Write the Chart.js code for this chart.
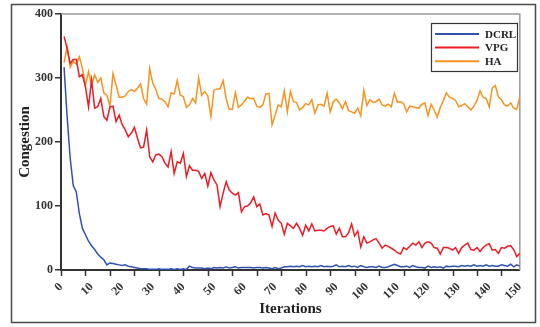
<!DOCTYPE html>
<html>
<head>
<meta charset="utf-8">
<script src="https://cdn.jsdelivr.net/npm/chart.js@4.4.1/dist/chart.umd.min.js"></script>
<style>
  html, body { margin: 0; padding: 0; background: #fff; }
  #wrap { width: 540px; height: 327px; position: relative; }
</style>
</head>
<body>
<div id="wrap"><canvas id="myChart" width="540" height="327"></canvas></div>
<script>
// iterations 1..150
const iterations = Array.from({ length: 150 }, (_, i) => i + 1);
const xTicks = [0, 150, 10];
const yTicks = [0, 400, 100];

const seriesNames = ["DCRL", "VPG", "HA"];
const seriesColors = ["#2f52b0", "#ec1c24", "#f7931e"];

const dcrl = [
  317, 240, 175, 132, 122, 88, 65, 55, 45, 38,
  32, 25, 20, 16, 8, 11, 10, 9, 8, 7,
  8, 6, 5, 4, 3, 2, 2, 2, 1, 1,
  1, 2, 1, 1, 1, 2, 1, 2, 1, 2,
  1, 6, 4, 3, 3, 3, 2, 3, 2, 4,
  3, 4, 3, 5, 3, 4, 5, 3, 4, 4,
  4, 4, 3, 4, 4, 3, 4, 3, 2, 4,
  2, 3, 5, 5, 6, 5, 6, 5, 7, 5,
  6, 5, 6, 5, 7, 5, 6, 5, 6, 8,
  5, 6, 5, 7, 5, 6, 4, 7, 5, 4,
  5, 5, 4, 6, 4, 4, 5, 7, 9, 7,
  5, 5, 6, 4, 7, 5, 4, 4, 3, 6,
  4, 5, 4, 5, 3, 6, 5, 6, 6, 5,
  7, 6, 7, 6, 8, 6, 7, 6, 8, 6,
  7, 6, 6, 8, 7, 6, 9, 5, 8, 6,
];

const vpg = [
  365, 346, 323, 329, 329, 302, 305, 286, 255, 297,
  253, 255, 268, 240, 234, 255, 256, 232, 242, 227,
  219, 208, 214, 223, 206, 191, 192, 219, 177, 169,
  180, 181, 177, 167, 161, 185, 151, 169, 167, 182,
  146, 163, 156, 156, 154, 143, 151, 131, 152, 141,
  133, 99, 120, 138, 125, 120, 117, 121, 91, 99,
  100, 105, 114, 99, 103, 86, 88, 86, 68, 89,
  78, 73, 56, 73, 69, 65, 73, 65, 54, 70,
  61, 72, 61, 62, 62, 61, 65, 68, 69, 56,
  65, 52, 52, 58, 72, 53, 61, 36, 52, 42,
  44, 47, 49, 42, 34, 39, 37, 34, 31, 27,
  25, 35, 32, 37, 42, 39, 44, 35, 42, 44,
  42, 35, 34, 25, 35, 35, 34, 31, 35, 26,
  35, 39, 42, 32, 31, 35, 29, 35, 39, 41,
  31, 32, 26, 35, 34, 37, 38, 32, 21, 26,
];

const ha = [
  324, 349, 317, 326, 322, 333, 315, 289, 310, 289,
  305, 293, 300, 277, 273, 256, 307, 289, 270, 270,
  272, 279, 282, 279, 284, 291, 268, 259, 315, 292,
  282, 268, 267, 263, 255, 277, 275, 296, 273, 271,
  254, 258, 268, 261, 300, 273, 279, 272, 240, 281,
  283, 283, 296, 268, 251, 251, 277, 254, 258, 264,
  270, 268, 268, 256, 254, 258, 275, 276, 227, 242,
  258, 255, 280, 247, 279, 263, 262, 250, 254, 260,
  258, 266, 245, 258, 259, 256, 276, 247, 263, 267,
  261, 252, 263, 249, 247, 245, 253, 241, 281, 257,
  266, 262, 263, 267, 258, 256, 259, 255, 276, 262,
  263, 260, 247, 256, 255, 254, 253, 259, 261, 241,
  259, 250, 239, 254, 265, 277, 270, 268, 265, 255,
  257, 260, 255, 250, 256, 265, 280, 270, 268, 255,
  284, 288, 270, 266, 258, 256, 261, 253, 251, 270,
];

const seriesValues = [dcrl, vpg, ha];

const serif = "'Liberation Serif', 'DejaVu Serif', serif";

// frame, top/right edges, x tick marks every 8 and the boxed legend
const chartDecor = {
  id: "chartDecor",
  beforeDatasetsDraw(chart) {
    const { ctx, chartArea: a } = chart;
    ctx.save();
    ctx.strokeStyle = "#9a9a9a";
    ctx.lineWidth = 1.5;
    ctx.beginPath();
    ctx.moveTo(a.left, a.top);
    ctx.lineTo(a.right, a.top);
    ctx.lineTo(a.right, a.bottom);
    ctx.stroke();

    const xs = chart.scales.x;
    ctx.strokeStyle = "#333";
    ctx.lineWidth = 1.5;
    for (let v = 0; v <= xTicks[1]; v += 8) {
      const px = Math.round(xs.getPixelForValue(v)) + 0.5;
      ctx.beginPath();
      ctx.moveTo(px, a.bottom);
      ctx.lineTo(px, a.bottom + 6);
      ctx.stroke();
    }
    ctx.restore();
  },
  afterDraw(chart) {
    const { ctx } = chart;
    ctx.save();
    ctx.strokeStyle = "#4a4a4a";
    ctx.lineWidth = 1.5;
    ctx.strokeRect(11.5, 4.5, 524, 318);

    ctx.fillStyle = "#fff";
    ctx.fillRect(431.5, 23.5, 86, 48);
    ctx.strokeStyle = "#333";
    ctx.lineWidth = 1.2;
    ctx.strokeRect(431.5, 23.5, 86, 48);

    chart.data.datasets.forEach((ds, i) => {
      const y = 34 + i * 13.6;
      ctx.strokeStyle = ds.borderColor;
      ctx.lineWidth = 2;
      ctx.beginPath();
      ctx.moveTo(435, y);
      ctx.lineTo(479, y);
      ctx.stroke();
      ctx.fillStyle = "#222";
      ctx.font = "bold 11px " + serif;
      ctx.textBaseline = "middle";
      ctx.fillText(ds.label, 485, y + 1);
    });
    ctx.restore();
  },
};

const ctx = document.getElementById("myChart").getContext("2d");
const chart = new Chart(ctx, {
  type: "line",
  data: {
    datasets: seriesNames.map((name, k) => ({
      label: name,
      data: seriesValues[k].map((v, i) => ({ x: iterations[i], y: v })),
      borderColor: seriesColors[k],
      borderWidth: 1.5,
      pointRadius: 0,
      tension: 0,
      fill: false,
    })),
  },
  options: {
    responsive: false,
    animation: false,
    layout: { padding: { left: 12, right: 9, top: 14, bottom: 5 } },
    plugins: {
      legend: { display: false },
      tooltip: { enabled: false },
    },
    scales: {
      x: {
        type: "linear",
        min: xTicks[0],
        max: xTicks[1],
        afterFit: (s) => { s.height = 52; },
        grid: { display: false, drawTicks: false },
        border: { display: true, color: "#333", width: 2 },
        ticks: {
          stepSize: xTicks[2],
          minRotation: 45,
          maxRotation: 45,
          padding: 10,
          color: "#333",
          font: { family: serif, size: 12, weight: "bold" },
        },
        title: {
          display: true,
          text: "Iterations",
          color: "#222",
          font: { family: serif, size: 15, weight: "bold" },
        },
      },
      y: {
        min: yTicks[0],
        max: yTicks[1],
        afterFit: (s) => { s.width = 49; },
        grid: { drawOnChartArea: false, drawTicks: true, tickLength: 6, color: "#333", lineWidth: 1.5 },
        border: { display: true, color: "#333", width: 2 },
        ticks: {
          stepSize: yTicks[2],
          padding: 2,
          color: "#333",
          font: { family: serif, size: 12, weight: "bold" },
        },
        title: {
          display: true,
          text: "Congestion",
          color: "#222",
          font: { family: serif, size: 15, weight: "bold" },
        },
      },
    },
  },
  plugins: [chartDecor],
});
</script>
</body>
</html>
